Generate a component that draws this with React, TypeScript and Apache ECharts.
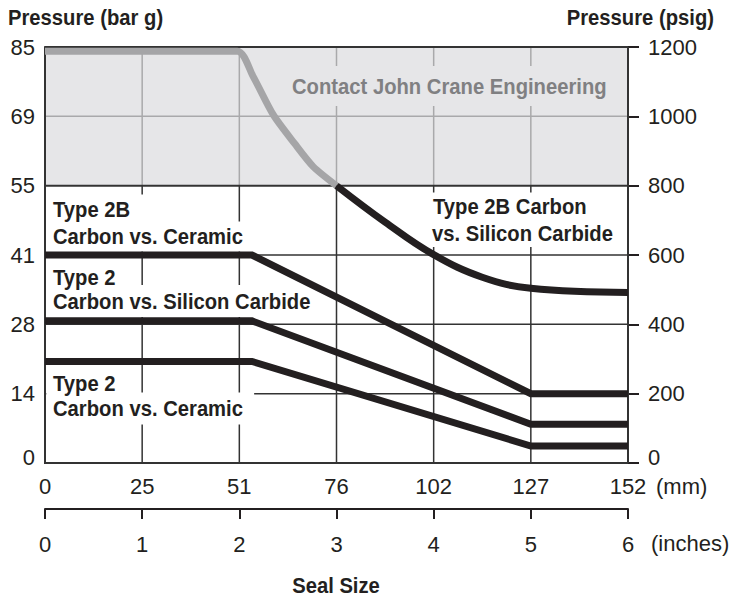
import React, { useEffect, useRef } from "react";
import * as echarts from "echarts";

// ---- Data ----
const inchTicks = ["0", "1", "2", "3", "4", "5", "6"];
const mmTicks = ["0", "25", "51", "76", "102", "127", "152"];
const barTicks = ["0", "14", "28", "41", "55", "69", "85"];
const psigTicks = ["0", "200", "400", "600", "800", "1000", "1200"];

// Contact region limit (psig)
const contactMin = 800;
const contactMax = 1200;

// Curves (x in inches, y in psig)
const contactX = [0, 1.98, 2.14, 2.35, 2.57, 2.76, 3.0];
const contactY = [1188, 1188, 1116, 1004, 921, 855, 800];

const t2bSicX = [3.0, 3.5, 4.0, 4.5, 5.0, 6.0];
const t2bSicY = [800, 695, 601, 536, 504, 492];

const t2bCerX = [0, 2.13, 5, 6];
const t2bCerY = [600, 600, 200, 200];

const t2SicX = [0, 2.13, 5, 6];
const t2SicY = [410, 410, 112, 112];

const t2CerX = [0, 2.13, 5, 6];
const t2CerY = [293, 293, 49, 49];

const gridInches = [1, 2, 3, 4, 5];
const gridPsigDark = [200, 400, 600];
const gridPsigLight = [1000];

const FONT = '"Liberation Sans", Arial, sans-serif';
const DARK = "#231f20";
const GRID_DARK = "#333333";
const GRID_LIGHT = "#a9a9ab";
const FILL = "#e6e6e8";
const CURVE_GRAY = "#a5a5a7";
const SX = 0.92;

const zip = (xs: number[], ys: number[]) => xs.map((x, i) => [x, ys[i]]);

function seg(points: number[][], color: string, width: number, z = 2) {
  return {
    type: "line",
    data: points,
    symbol: "none",
    silent: true,
    clip: false,
    z,
    lineStyle: { color, width },
  };
}

export default function App() {
  const ref = useRef<HTMLDivElement>(null);

  useEffect(() => {
    if (!ref.current) return;
    const chart = echarts.init(ref.current, undefined, { renderer: "svg" });

    const gridSeries: any[] = [];
    gridInches.forEach((x) => {
      gridSeries.push(seg([[x, 0], [x, contactMin]], GRID_DARK, 1.5));
      gridSeries.push(seg([[x, contactMin], [x, contactMax]], GRID_LIGHT, 1.5));
    });
    gridPsigDark.forEach((y) => gridSeries.push(seg([[0, y], [6, y]], GRID_DARK, 1.5)));
    gridPsigLight.forEach((y) => gridSeries.push(seg([[0, y], [6, y]], GRID_LIGHT, 1.5)));
    gridSeries.push(seg([[0, contactMin], [6, contactMin]], GRID_DARK, 2));
    gridSeries.push(seg([[0, contactMax], [6, contactMax]], GRID_DARK, 2));
    gridSeries.push(seg([[0, 0], [0, contactMax]], GRID_DARK, 2));
    gridSeries.push(seg([[6, 0], [6, contactMax]], GRID_DARK, 2));
    gridSeries.push(seg([[0, 0], [6, 0]], GRID_DARK, 2));

    const line = (name: string, xs: number[], ys: number[], color: string, smooth: number | boolean, z: number) => ({
      name,
      type: "line",
      data: zip(xs, ys),
      symbol: "none",
      smooth,
      clip: false,
      z,
      lineStyle: { color, width: 7, join: "miter", cap: "butt" },
    });

    const dataSeries = [
      line("Contact John Crane Engineering", contactX, contactY, CURVE_GRAY, 0.25, 5),
      line("Type 2B Carbon vs. Silicon Carbide", t2bSicX, t2bSicY, DARK, 0.4, 6),
      line("Type 2B Carbon vs. Ceramic", t2bCerX, t2bCerY, DARK, false, 6),
      line("Type 2 Carbon vs. Silicon Carbide", t2SicX, t2SicY, DARK, false, 6),
      line("Type 2 Carbon vs. Ceramic", t2CerX, t2CerY, DARK, false, 6),
    ];

    const areaSeries = {
      type: "line",
      data: [],
      silent: true,
      z: 1,
      markArea: {
        silent: true,
        z: 1,
        itemStyle: { color: FILL },
        data: [[{ xAxis: 0, yAxis: contactMin }, { xAxis: 6, yAxis: contactMax }]],
      },
    };

    // x = where the glyphs themselves should start
    const boldText = (text: string, x: number, y: number, opts: any = {}) => {
      const p = opts.padding || [0, 0, 0, 0];
      return {
        type: "text",
        x: x - p[3] * SX,
        y,
        scaleX: SX,
        z: opts.z || 3,
        silent: true,
        style: {
          text,
          fill: opts.fill || DARK,
          font: `bold ${opts.size || 22}px ${FONT}`,
          textAlign: opts.align || "left",
          verticalAlign: "middle",
          backgroundColor: opts.bg,
          padding: opts.padding,
        },
      };
    };
    const regText = (text: string, x: number, y: number) => ({
      type: "text",
      x,
      y,
      z: 3,
      silent: true,
      style: {
        text,
        fill: DARK,
        font: `22px ${FONT}`,
        textAlign: "left",
        verticalAlign: "middle",
      },
    });

    const labelStyle = { fontSize: 22, color: DARK, fontFamily: FONT };
    const rich = { z: { fontSize: 22, fontFamily: FONT, color: DARK, padding: [0, 0, 12, 0] } };

    const option: any = {
      animation: false,
      grid: { left: 45, right: 104, top: 47, bottom: 136 },
      xAxis: [
        {
          type: "value",
          min: 0,
          max: 6,
          interval: 1,
          position: "bottom",
          axisLine: { show: true, onZero: false, lineStyle: { color: DARK, width: 2 } },
          axisTick: { show: false },
          splitLine: { show: false },
          axisLabel: { ...labelStyle, formatter: (v: number) => mmTicks[Math.round(v)], margin: 12 },
        },
        {
          type: "value",
          min: 0,
          max: 6,
          interval: 1,
          position: "bottom",
          offset: 46,
          axisLine: { show: true, onZero: false, lineStyle: { color: DARK, width: 2 } },
          axisTick: { show: true, length: 10, lineStyle: { color: DARK, width: 2 } },
          splitLine: { show: false },
          axisLabel: { ...labelStyle, formatter: (v: number) => inchTicks[Math.round(v)], margin: 24 },
        },
      ],
      yAxis: [
        {
          type: "value",
          min: 0,
          max: 1200,
          interval: 200,
          position: "left",
          axisLine: { show: true, onZero: false, lineStyle: { color: DARK, width: 2 } },
          axisTick: { show: false },
          splitLine: { show: false },
          axisLabel: {
            ...labelStyle,
            formatter: (v: number) => {
              const i = Math.round(v / 200);
              return i === 0 ? "{z|" + barTicks[i] + "}" : barTicks[i];
            },
            margin: 10,
            rich,
          },
        },
        {
          type: "value",
          min: 0,
          max: 1200,
          interval: 200,
          position: "right",
          axisLine: { show: true, onZero: false, lineStyle: { color: DARK, width: 2 } },
          axisTick: { show: true, length: 11, lineStyle: { color: DARK, width: 2 } },
          splitLine: { show: false },
          axisLabel: {
            ...labelStyle,
            formatter: (v: number) => {
              const i = Math.round(v / 200);
              return i === 0 ? "{z|" + psigTicks[i] + "}" : psigTicks[i];
            },
            margin: 20,
            rich,
          },
        },
      ],
      graphic: [
        boldText("Pressure (bar g)", 8, 17),
        boldText("Pressure (psig)", 714, 17, { align: "right" }),
        boldText("Contact John Crane Engineering", 292, 86, {
          fill: "#808082",
          bg: FILL,
          padding: [9, 8, 9, 8],
        }),
        // second lines first, first lines on top so descenders are not hidden
        boldText("Carbon vs. Ceramic", 53, 236.5, { bg: "#ffffff", padding: [2, 12, 6, 7], z: 3 }),
        boldText("Carbon vs. Silicon Carbide", 53, 301, { bg: "#ffffff", padding: [2, 10, 8, 7], z: 3 }),
        boldText("Carbon vs. Ceramic", 53, 408.5, { bg: "#ffffff", padding: [4, 12, 6, 7], z: 3 }),
        boldText("vs. Silicon Carbide", 432, 233, { bg: "#ffffff", padding: [2, 10, 4, 4], z: 3 }),
        boldText("Type 2B", 53, 209, { bg: "#ffffff", padding: [7, 14, 0, 7], z: 4 }),
        boldText("Type 2", 53, 277, { bg: "#ffffff", padding: [2, 6, 0, 7], z: 4 }),
        boldText("Type 2", 53, 383, { bg: "#ffffff", padding: [2, 6, 0, 7], z: 4 }),
        boldText("Type 2B Carbon", 433, 206, { bg: "#ffffff", padding: [5, 10, 0, 5], z: 4 }),
        regText("(mm)", 656, 486),
        regText("(inches)", 651, 543),
        boldText("Seal Size", 336, 585, { align: "center" }),
      ],
      series: [areaSeries, ...gridSeries, ...dataSeries],
    };

    chart.setOption(option);
    return () => chart.dispose();
  }, []);

  return (
    <div
      ref={ref}
      style={{ position: "fixed", left: 0, top: 0, width: 732, height: 599, background: "#ffffff" }}
    />
  );
}
